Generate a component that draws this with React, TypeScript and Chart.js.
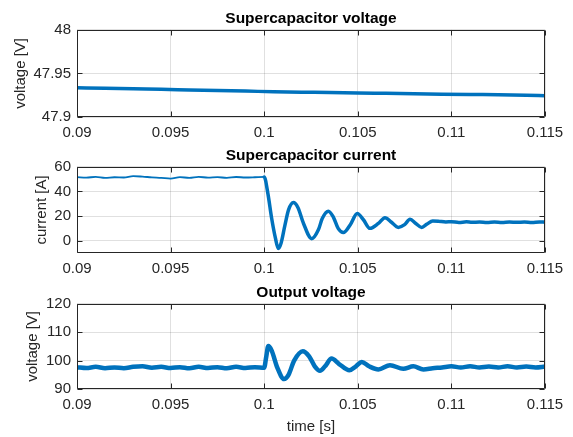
import { useEffect, useRef } from "react";
import { Chart, registerables } from "chart.js";
Chart.register(...registerables);

const FONT = "'Liberation Sans', Arial, Helvetica, sans-serif";
const LINE = "#0072BD";
const AXIS = "#262626";
const GRID = "rgba(0,0,0,0.12)";

const xTicks = [0.09, 0.095, 0.1, 0.105, 0.11, 0.115];
const xTickLabels = ["0.09", "0.095", "0.1", "0.105", "0.11", "0.115"];

// Supercapacitor voltage
const scVoltageTime = [0.09, 0.0915, 0.093, 0.0945, 0.096, 0.0975, 0.099, 0.1005, 0.102, 0.1035, 0.105, 0.1065, 0.108, 0.1095, 0.111, 0.1125, 0.114, 0.115];
const scVoltage = [47.9335, 47.933, 47.9323, 47.9318, 47.931, 47.9303, 47.9297, 47.929, 47.9285, 47.9282, 47.9275, 47.9272, 47.9268, 47.9262, 47.9258, 47.9255, 47.925, 47.9245];
const scVoltageTicks = [47.9, 47.95, 48];
const scVoltageTickLabels = ["47.9", "47.95", "48"];

// Supercapacitor current
const scCurrentTime = [
  0.09, 0.0905, 0.091, 0.0915, 0.092, 0.0925, 0.093, 0.0935, 0.094, 0.0945,
  0.095, 0.0955, 0.096, 0.0965, 0.097, 0.0975, 0.098, 0.0985, 0.099, 0.0995,
  0.1, 0.1002, 0.1004, 0.1006, 0.10075, 0.1009, 0.1011, 0.1013, 0.10156, 0.1018,
  0.1021, 0.10254, 0.1029, 0.1031, 0.10343, 0.1037, 0.10395, 0.10423, 0.1046, 0.10497,
  0.1053, 0.10565, 0.1061, 0.10645, 0.1068, 0.10716, 0.1075, 0.10779, 0.1081, 0.10841,
  0.1087, 0.109, 0.1093, 0.1097, 0.11, 0.1104, 0.1108, 0.1111, 0.1115, 0.1119,
  0.1123, 0.1127, 0.1131, 0.1135, 0.1139, 0.1143, 0.1147, 0.115,
];
const scCurrent = [
  51.6, 51.2, 51.8, 51.0, 51.5, 51.3, 52.4, 52.0, 51.4, 51.0,
  50.4, 51.6, 51.0, 51.8, 51.2, 51.6, 51.0, 51.7, 51.3, 51.5,
  51.8, 38, 18, 2, -6.3, -2, 12, 25, 31, 27,
  14, 1.6, 9, 18, 24, 19, 10, 6.6, 13, 22,
  17, 10, 14, 18.7, 15, 10.8, 13, 17.4, 14, 10.8,
  13.5, 16, 15.8, 15.2, 15.4, 14.8, 15.3, 14.9, 15.2, 14.7,
  15.1, 14.8, 15.2, 14.9, 15.1, 14.7, 15.2, 15.0,
];
const scCurrentTicks = [0, 20, 40, 60];
const scCurrentTickLabels = ["0", "20", "40", "60"];

// Output voltage
const outVoltageTime = [
  0.09, 0.0905, 0.091, 0.0915, 0.092, 0.0925, 0.093, 0.0935, 0.094, 0.0945,
  0.095, 0.0955, 0.096, 0.0965, 0.097, 0.0975, 0.098, 0.0985, 0.099, 0.0995,
  0.1, 0.1001, 0.10022, 0.1004, 0.1007, 0.10106, 0.1013, 0.1016, 0.10206, 0.1024,
  0.1027, 0.10298, 0.10325, 0.1036, 0.104, 0.10455, 0.1049, 0.10521, 0.1056, 0.1061,
  0.10672, 0.10743, 0.10797, 0.1085, 0.109, 0.1095, 0.11, 0.1105, 0.111, 0.1115,
  0.112, 0.1125, 0.113, 0.1135, 0.114, 0.1145, 0.115,
];
const outVoltage = [
  97.7, 97.4, 97.8, 97.3, 97.6, 97.3, 97.8, 98.0, 97.5, 97.8,
  97.4, 97.7, 97.3, 97.8, 97.4, 97.7, 97.3, 97.8, 97.4, 97.7,
  97.5, 101, 105.1, 103.5, 97.5, 93.5, 95, 100, 103.3, 101.5,
  98, 96.4, 98, 100.7, 98.8, 96.6, 98, 99.5, 98, 96.9,
  98.4, 97.1, 98.0, 96.9, 97.3, 97.6, 98.0, 97.6, 98.0, 97.6,
  97.9, 97.6, 98.0, 97.6, 97.9, 97.6, 97.9,
];
const outVoltageTicks = [90, 100, 110, 120];
const outVoltageTickLabels = ["90", "100", "110", "120"];

const framePlugin = {
  id: "matlabFrame",
  afterDraw(chart: any) {
    const { ctx, chartArea, scales } = chart;
    const { left, right, top, bottom } = chartArea;
    const L = Math.round(left) + 0.5;
    const R = Math.round(right) - 0.5;
    const T = Math.round(top) + 0.5;
    const B = Math.round(bottom) - 0.5;
    ctx.save();
    ctx.strokeStyle = AXIS;
    ctx.lineWidth = 1;
    ctx.beginPath();
    ctx.rect(L, T, R - L, B - T);
    const tl = 5;
    scales.x.ticks.forEach((t: any) => {
      const px = Math.round(scales.x.getPixelForValue(t.value)) + 0.5;
      ctx.moveTo(px, B);
      ctx.lineTo(px, B - tl);
      ctx.moveTo(px, T);
      ctx.lineTo(px, T + tl);
    });
    scales.y.ticks.forEach((t: any) => {
      const py = Math.round(scales.y.getPixelForValue(t.value)) + 0.5;
      ctx.moveTo(L, py);
      ctx.lineTo(L + tl, py);
      ctx.moveTo(R, py);
      ctx.lineTo(R - tl, py);
    });
    ctx.stroke();
    ctx.restore();
  },
};

type PanelProps = {
  top: number;
  height: number;
  title: string;
  xs: number[];
  ys: number[];
  yMin: number;
  yMax: number;
  yTicks: number[];
  yTickLabels: string[];
  yTitle: string;
  yTitlePad: number;
  xTitle?: string;
  xAxisHeight: number;
  width: (x: number) => number;
};

function Panel(p: PanelProps) {
  const ref = useRef<HTMLCanvasElement>(null);
  useEffect(() => {
    if (!ref.current) return;
    const data = p.xs.map((x, i) => ({ x, y: p.ys[i] }));
    const chart = new Chart(ref.current, {
      type: "line",
      data: {
        datasets: [
          {
            data,
            borderColor: LINE,
            backgroundColor: LINE,
            borderWidth: 3,
            pointRadius: 0,
            cubicInterpolationMode: "monotone",
            borderJoinStyle: "round",
            borderCapStyle: "round",
            segment: {
              borderWidth: (c: any) => p.width(c.p0.parsed.x),
            },
          } as any,
        ],
      },
      options: {
        responsive: false,
        animation: false,
        events: [],
        layout: { padding: { left: 0, right: 28, top: 0, bottom: 0 } },
        plugins: {
          legend: { display: false },
          tooltip: { enabled: false },
          title: {
            display: true,
            text: p.title,
            fullSize: false,
            color: "#000",
            font: { family: FONT, size: 15.5, weight: "bold" },
            padding: { top: 9, bottom: 2.2 },
          },
        },
        scales: {
          x: {
            type: "linear",
            min: 0.09,
            max: 0.115,
            afterBuildTicks: (s: any) => {
              s.ticks = xTicks.map((v) => ({ value: v }));
            },
            afterFit: (s: any) => {
              s.height = p.xAxisHeight;
            },
            ticks: {
              color: AXIS,
              font: { family: FONT, size: 15 },
              padding: 7,
              maxRotation: 0,
              autoSkip: false,
              callback: (v: any) => {
                const i = xTicks.findIndex((t) => Math.abs(t - Number(v)) < 1e-9);
                return i >= 0 ? xTickLabels[i] : "";
              },
            },
            grid: { color: GRID, drawTicks: false },
            border: { display: false },
            title: {
              display: !!p.xTitle,
              text: p.xTitle || "",
              color: AXIS,
              font: { family: FONT, size: 15 },
              padding: { top: 0, bottom: 1 },
            },
          },
          y: {
            type: "linear",
            min: p.yMin,
            max: p.yMax,
            afterBuildTicks: (s: any) => {
              s.ticks = p.yTicks.map((v) => ({ value: v }));
            },
            afterFit: (s: any) => {
              s.width = 77;
            },
            ticks: {
              color: AXIS,
              font: { family: FONT, size: 15 },
              padding: 6,
              autoSkip: false,
              callback: (v: any) => {
                const i = p.yTicks.findIndex((t) => Math.abs(t - Number(v)) < 1e-9);
                return i >= 0 ? p.yTickLabels[i] : "";
              },
            },
            grid: { color: GRID, drawTicks: false },
            border: { display: false },
            title: {
              display: true,
              text: p.yTitle,
              color: AXIS,
              font: { family: FONT, size: 15 },
              padding: { top: p.yTitlePad, bottom: 0 },
            },
          },
        },
      },
      plugins: [framePlugin],
    });
    return () => chart.destroy();
  }, []);
  return (
    <canvas
      ref={ref}
      width={573}
      height={p.height}
      style={{ position: "absolute", left: 0, top: p.top, width: 573, height: p.height, display: "block" }}
    />
  );
}

export default function App() {
  return (
    <div style={{ position: "fixed", left: 0, top: 0, width: 573, height: 437, background: "#fff", overflow: "hidden" }}>
      <Panel
        top={0}
        height={145}
        title="Supercapacitor voltage"
        xs={scVoltageTime}
        ys={scVoltage}
        yMin={47.9}
        yMax={48}
        yTicks={scVoltageTicks}
        yTickLabels={scVoltageTickLabels}
        yTitle="voltage [V]"
        yTitlePad={11.7}
        xAxisHeight={28}
        width={() => 3.5}
      />
      <Panel
        top={137}
        height={144}
        title="Supercapacitor current"
        xs={scCurrentTime}
        ys={scCurrent}
        yMin={-10}
        yMax={60}
        yTicks={scCurrentTicks}
        yTickLabels={scCurrentTickLabels}
        yTitle="current [A]"
        yTitlePad={32.7}
        xAxisHeight={28}
        width={(x) => (x < 0.0999 ? 1.8 : 3.5)}
      />
      <Panel
        top={274}
        height={163}
        title="Output voltage"
        xs={outVoltageTime}
        ys={outVoltage}
        yMin={90}
        yMax={120}
        yTicks={outVoltageTicks}
        yTickLabels={outVoltageTickLabels}
        yTitle="voltage [V]"
        yTitlePad={24}
        xTitle="time [s]"
        xAxisHeight={48}
        width={() => 4.5}
      />
    </div>
  );
}
